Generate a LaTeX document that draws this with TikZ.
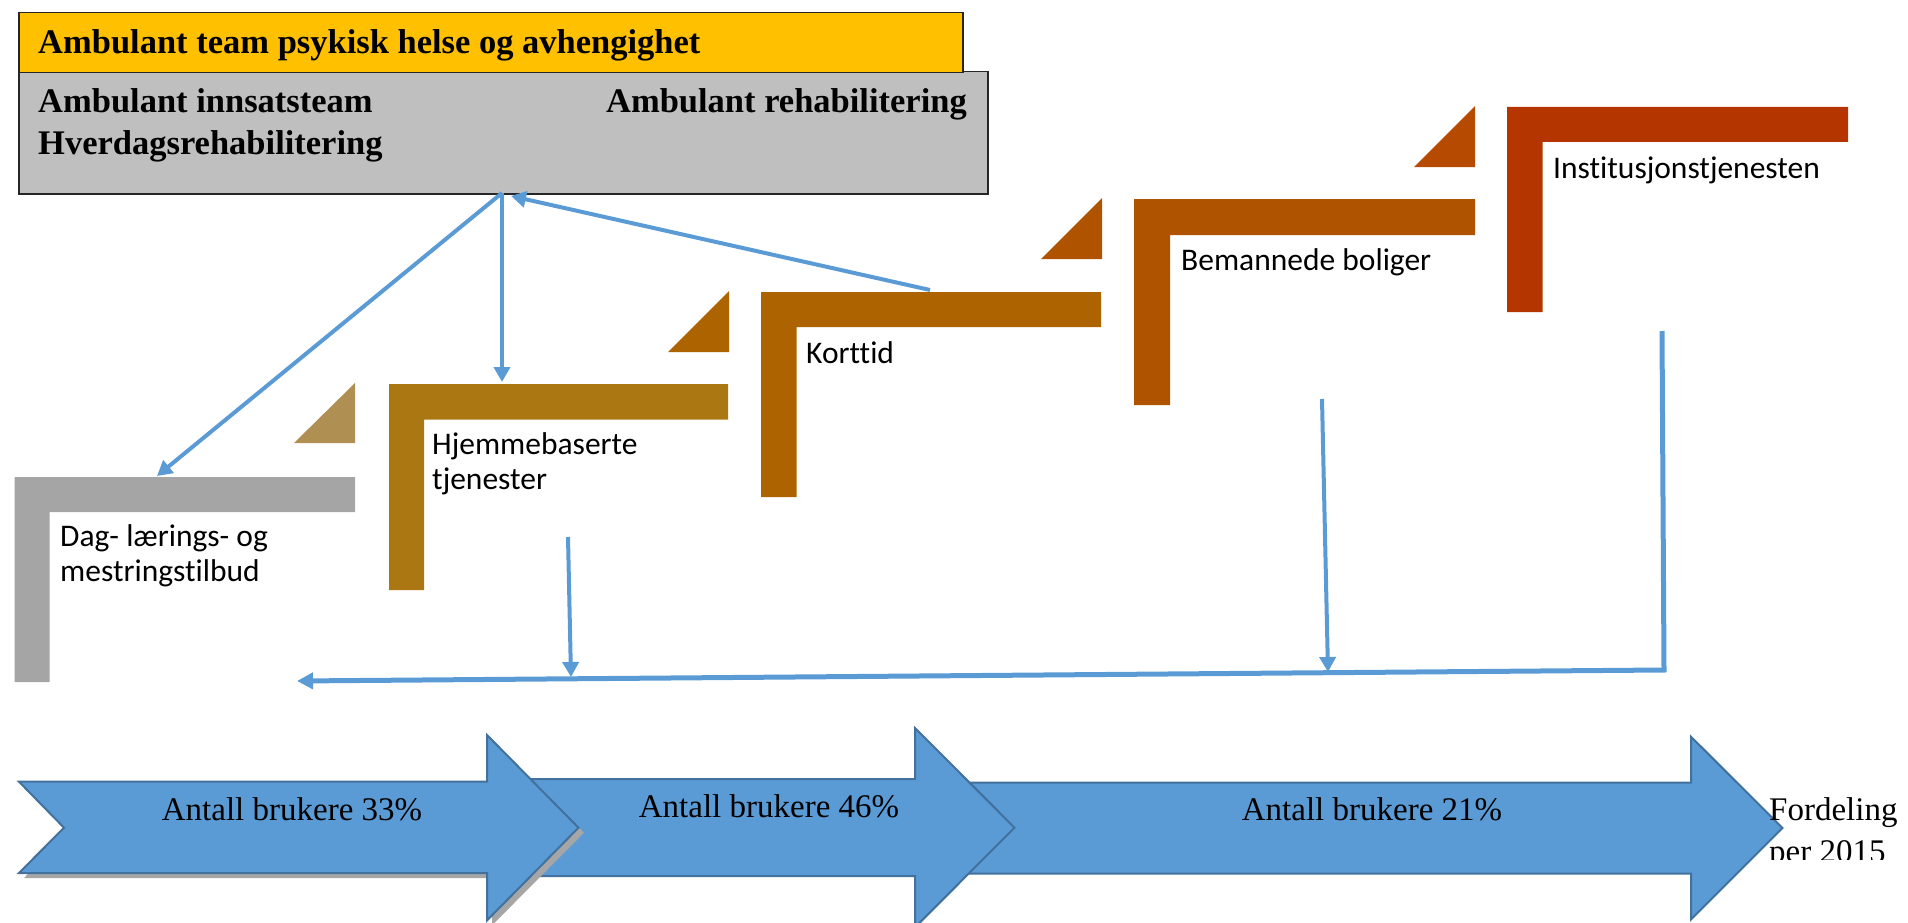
\documentclass[tikz,border=0pt]{standalone}
\usepackage{fontspec}
\setmainfont{Liberation Serif}
\newfontfamily\calfont[Ligatures={NoCommon}]{Carlito}
\usetikzlibrary{arrows.meta}
\definecolor{orangebox}{HTML}{FFC000}
\definecolor{graybox}{HTML}{BFBFBF}
\definecolor{boxline}{HTML}{262626}
\definecolor{grayL}{HTML}{A5A5A5}
\definecolor{hjemL}{HTML}{AB7712}
\definecolor{hjemT}{HTML}{B08F53}
\definecolor{kortL}{HTML}{AD6400}
\definecolor{bemL}{HTML}{AF5300}
\definecolor{instL}{HTML}{B43500}
\definecolor{instT}{HTML}{B64A00}
\definecolor{linkblue}{HTML}{5B9BD5}
\definecolor{arrowline}{HTML}{41719C}
\definecolor{shadowgray}{HTML}{A6A6A6}
\begin{document}
\begin{tikzpicture}[x=1pt,y=-1pt,
  boxtext/.style={font=\fontsize{34.5}{40}\selectfont\bfseries, inner sep=0pt},
  lbl/.style={font=\calfont\fontsize{31.5}{34.5}\selectfont, anchor=base west, inner sep=0pt, align=left},
  pct/.style={font=\fontsize{33}{37}\selectfont, anchor=base, inner sep=0pt},
  link/.style={draw=linkblue, line width=4pt, -{Triangle[length=15pt,width=16pt]}},
  bigarrow/.style={fill=linkblue, draw=arrowline, line width=2pt, line join=miter}]
\useasboundingbox (0,0) rectangle (1908,923);

% top boxes
\node[draw=boxline, fill=graybox, line width=1.5pt, minimum width=969pt, minimum height=122pt,
      anchor=north west, inner sep=0pt] (amb) at (18,71) {};
\node[draw=boxline, fill=orangebox, line width=1.5pt, minimum width=944pt, minimum height=60pt,
      anchor=north west, inner sep=0pt] (team) at (18,12) {};
\node[boxtext, anchor=base west] (teamtxt) at (38,54) {Ambulant team psykisk helse og avhengighet};
\node[boxtext, anchor=base west] (innsats) at (38,113) {Ambulant innsatsteam};
\node[boxtext, anchor=base west] (hverdag) at (38,154) {Hverdagsrehabilitering};
\node[boxtext, anchor=base east] (ambrehab) at (967,113) {Ambulant rehabilitering};

% steps
\fill[grayL] (14.5,477) -- (355,477) -- (355,512) -- (49.5,512) -- (49.5,682) -- (14.5,682) -- cycle;
\fill[hjemT] (355,383) -- (355,443) -- (294,443) -- cycle;
\fill[hjemL] (389,384) -- (728,384) -- (728,419.5) -- (424,419.5) -- (424,590) -- (389,590) -- cycle;
\fill[kortL] (729,291) -- (729,352) -- (668,352) -- cycle;
\fill[kortL] (761,292) -- (1101,292) -- (1101,327) -- (796.5,327) -- (796.5,497) -- (761,497) -- cycle;
\fill[bemL] (1102,198) -- (1102,259) -- (1041,259) -- cycle;
\fill[bemL] (1134,199) -- (1475,199) -- (1475,235) -- (1170,235) -- (1170,405) -- (1134,405) -- cycle;
\fill[instT] (1475,106) -- (1475,167) -- (1414,167) -- cycle;
\fill[instL] (1507,107) -- (1848,107) -- (1848,142) -- (1542.5,142) -- (1542.5,312) -- (1507,312) -- cycle;

\node[lbl] (dag) at (60,581) {Dag- lærings- og\\mestringstilbud};
\node[lbl] (hjem) at (432,489) {Hjemmebaserte\\tjenester};
\node[lbl] (kort) at (806,363) {Korttid};
\node[lbl] (bem) at (1181,270) {Bemannede boliger};
\node[lbl] (inst) at (1553,178) {Institusjonstjenesten};

% connector points
\coordinate (ambOut) at (502,193);
\coordinate (ambIn) at (511,196);
\coordinate (hjemIn) at (502,382);
\coordinate (dagIn) at (157,476);
\coordinate (kortOut) at (930,290);
\coordinate (hjemOut) at (568,537);
\coordinate (j1) at (571,677);
\coordinate (bemOut) at (1322,399);
\coordinate (j2) at (1328,672);
\coordinate (instOut) at (1662,331);
\coordinate (corner) at (1664,670);
\coordinate (flowEnd) at (297,681);

\draw[link] (ambOut) -- (dagIn);
\draw[link] (ambOut) -- (hjemIn);
\draw[link] (kortOut) -- (ambIn);
\draw[link] (hjemOut) -- (j1);
\draw[link] (bemOut) -- (j2);
\draw[draw=linkblue, line width=5pt, line join=miter, -{Triangle[length=16pt,width=16pt]}]
  (instOut) -- (corner) -- (flowEnd);

% big arrows
\path[bigarrow] (925,782.5) -- (1691,782.5) -- (1691,736.7) -- (1782.5,828) -- (1691,919.5) -- (1691,873.5) -- (925,873.5) -- cycle;
\path[bigarrow] (500,779) -- (915,779) -- (915,728) -- (1014.5,827.7) -- (915,927.4) -- (915,876) -- (500,876) -- cycle;
\fill[shadowgray] (24,787) -- (492,787) -- (492,740) -- (584,832.7) -- (492,925.4) -- (492,878) -- (24,878) -- (69,832.7) -- cycle;
\path[bigarrow] (19,781.7) -- (487,781.7) -- (487,735) -- (578.5,827.7) -- (487,920.4) -- (487,873) -- (19,873) -- (64,827.7) -- cycle;

\node[pct] (p33) at (292,820) {Antall brukere 33\%};
\node[pct] (p46) at (769,817) {Antall brukere 46\%};
\node[pct] (p21) at (1372,820) {Antall brukere 21\%};
\begin{scope}
\clip (1750,780) rectangle (1908,859);
\node[font=\fontsize{33}{42}\selectfont, anchor=base west, inner sep=0pt, align=left] (ford) at (1769,862) {Fordeling\\per 2015};
\end{scope}
\end{tikzpicture}
\end{document}
